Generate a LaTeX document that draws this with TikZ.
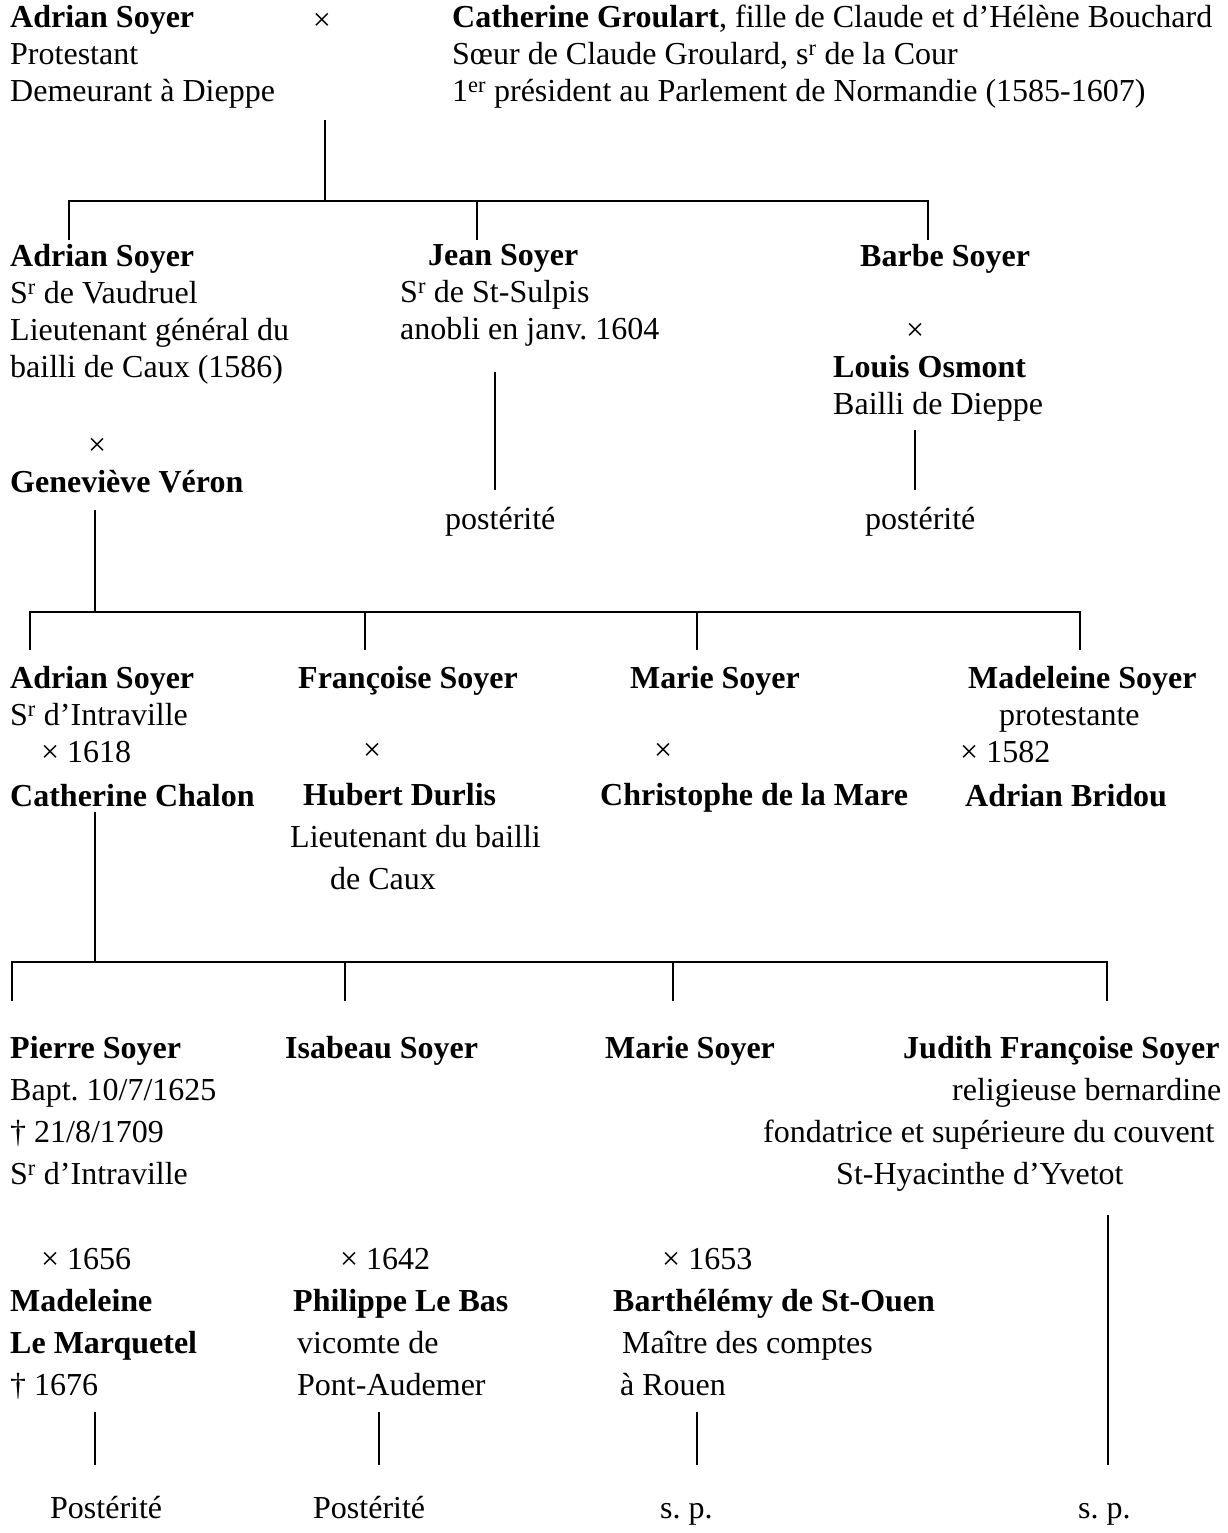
\documentclass[tikz,border=0pt]{standalone}
\usepackage{fontspec}
\setmainfont{Liberation Serif}

\newcommand\gfont{\fontsize{32}{37}\selectfont\frenchspacing}
\newcommand\gfontwide{\fontsize{32}{42}\selectfont\frenchspacing}
\newcommand\topline{\rule{0pt}{23pt}}
\newcommand\sieur{S\textsuperscript{r}}

\begin{document}
\begin{tikzpicture}[
    x=1pt, y=-1pt,
    % --- STYLES ---
    person/.style={
        anchor=north west, align=left,
        inner sep=0pt, font=\gfont,
        execute at begin node=\topline
    },
    widerow/.style={font=\gfontwide},
    sym/.style={anchor=base, inner sep=0pt, font=\gfont},
    issue/.style={anchor=base west, inner sep=0pt, font=\gfont},
    link/.style={line width=1.3pt}
]

\useasboundingbox (0,0) rectangle (1228,1533);

% ===== 1. FIRST GENERATION =====
\node[person] (adrian1) at (10,5) {\textbf{Adrian Soyer}\\ Protestant\\ Demeurant à Dieppe};
\node[sym] (mar1) at (322,31) {×};
\node[person] (groulart) at (452,5) {\textbf{Catherine Groulart}, fille de Claude et d’Hélène Bouchard\\
    Sœur de Claude Groulard, s\textsuperscript{r} de la Cour\\
    1\textsuperscript{er} président au Parlement de Normandie (1585-1607)};

\coordinate (couple1) at (325,120);
\coordinate (bar1) at (325,201);
\coordinate (drop11) at (69,240);
\coordinate (drop12) at (477,240);
\coordinate (drop13) at (928,240);

% ===== 2. SECOND GENERATION =====
\node[person] (adrian2) at (10,244) {\textbf{Adrian Soyer}\\ \sieur{} de Vaudruel\\
    Lieutenant général du\\ bailli de Caux (1586)};
\node[person] (veron) at (10,438) {\hspace*{78pt}×\\ \textbf{Geneviève Véron}};

\node[person] (jean) at (400,244) {\hspace*{28pt}\textbf{Jean Soyer}\\ \sieur{} de St-Sulpis\\ anobli en janv. 1604};
\node[issue] (jeanpost) at (445,529) {postérité};

\node[person] (barbe) at (833,244) {\hspace*{27pt}\textbf{Barbe Soyer}\\[37pt]
    \hspace*{73pt}×\\ \textbf{Louis Osmont}\\ Bailli de Dieppe};
\node[issue] (barbepost) at (865,529) {postérité};

\coordinate (jeantop) at (495,372);
\coordinate (jeanbot) at (495,490);
\coordinate (barbetop) at (915,430);
\coordinate (barbebot) at (915,490);

\coordinate (couple2) at (95,510);
\coordinate (bar2) at (95,612);
\coordinate (drop21) at (30,650);
\coordinate (drop22) at (365,650);
\coordinate (drop23) at (697,650);
\coordinate (drop24) at (1080,650);

% ===== 3. THIRD GENERATION =====
\node[person] (adrian3) at (10,666) {\textbf{Adrian Soyer}\\ \sieur{} d’Intraville\\
    \hspace*{31pt}× 1618\\[7pt] \textbf{Catherine Chalon}};
\node[person] (francoise) at (290,666) {\hspace*{8pt}\textbf{Françoise Soyer}\\[35pt]
    \hspace*{73pt}×\\[8pt] \hspace*{13pt}\textbf{Hubert Durlis}\\[5pt]
    Lieutenant du bailli\\[5pt] \hspace*{40pt}de Caux};
\node[person] (marie3) at (600,666) {\hspace*{30pt}\textbf{Marie Soyer}\\[35pt]
    \hspace*{54pt}×\\[8pt] \textbf{Christophe de la Mare}};
\node[person] (madeleine3) at (960,666) {\hspace*{8pt}\textbf{Madeleine Soyer}\\
    \hspace*{39pt}protestante\\ × 1582\\[7pt] \hspace*{5pt}\textbf{Adrian Bridou}};

\coordinate (couple3) at (95,812);
\coordinate (bar3) at (95,962);
\coordinate (drop31) at (12,1001);
\coordinate (drop32) at (345,1001);
\coordinate (drop33) at (673,1001);
\coordinate (drop34) at (1107,1001);

% ===== 4. FOURTH GENERATION =====
\node[person, widerow] (pierre) at (10,1036) {\textbf{Pierre Soyer}\\ Bapt. 10/7/1625\\ † 21/8/1709\\
    \sieur{} d’Intraville\\[43pt] \hspace*{31pt}× 1656\\ \textbf{Madeleine}\\ \textbf{Le Marquetel}\\ † 1676};
\node[person, widerow] (isabeau) at (285,1036) {\textbf{Isabeau Soyer}\\[169pt]
    \hspace*{55pt}× 1642\\ \hspace*{8pt}\textbf{Philippe Le Bas}\\ \hspace*{12pt}vicomte de\\ \hspace*{12pt}Pont-Audemer};
\node[person, widerow] (marie4) at (605,1036) {\textbf{Marie Soyer}\\[169pt]
    \hspace*{57pt}× 1653\\ \hspace*{8pt}\textbf{Barthélémy de St-Ouen}\\ \hspace*{17pt}Maître des comptes\\ \hspace*{15pt}à Rouen};
\node[person, widerow] (judith) at (763,1036) {\hspace*{140pt}\textbf{Judith Françoise Soyer}\\
    \hspace*{189pt}religieuse bernardine\\ fondatrice et supérieure du couvent\\
    \hspace*{73pt}St-Hyacinthe d’Yvetot};

\node[issue] (pierrepost) at (50,1518) {Postérité};
\node[issue] (isabeaupost) at (313,1518) {Postérité};
\node[issue] (mariepost) at (660,1518) {s. p.};
\node[issue] (judithpost) at (1078,1518) {s. p.};

\coordinate (pierretop) at (95,1412);
\coordinate (pierrebot) at (95,1465);
\coordinate (isabeautop) at (379,1412);
\coordinate (isabeaubot) at (379,1465);
\coordinate (marietop) at (697,1412);
\coordinate (mariebot) at (697,1465);
\coordinate (judithtop) at (1108,1215);
\coordinate (judithbot) at (1108,1465);

% ===== 5. CONNECTIONS =====
\draw[link] (couple1) -- (bar1);
\draw[link] (drop11) |- (bar1) -| (drop13);
\draw[link] (drop12) -- (drop12 |- bar1);

\draw[link] (jeantop) -- (jeanbot);
\draw[link] (barbetop) -- (barbebot);

\draw[link] (couple2) -- (bar2);
\draw[link] (drop21) |- (bar2) -| (drop24);
\draw[link] (drop22) -- (drop22 |- bar2);
\draw[link] (drop23) -- (drop23 |- bar2);

\draw[link] (couple3) -- (bar3);
\draw[link] (drop31) |- (bar3) -| (drop34);
\draw[link] (drop32) -- (drop32 |- bar3);
\draw[link] (drop33) -- (drop33 |- bar3);

\draw[link] (pierretop) -- (pierrebot);
\draw[link] (isabeautop) -- (isabeaubot);
\draw[link] (marietop) -- (mariebot);
\draw[link] (judithtop) -- (judithbot);

\end{tikzpicture}
\end{document}
